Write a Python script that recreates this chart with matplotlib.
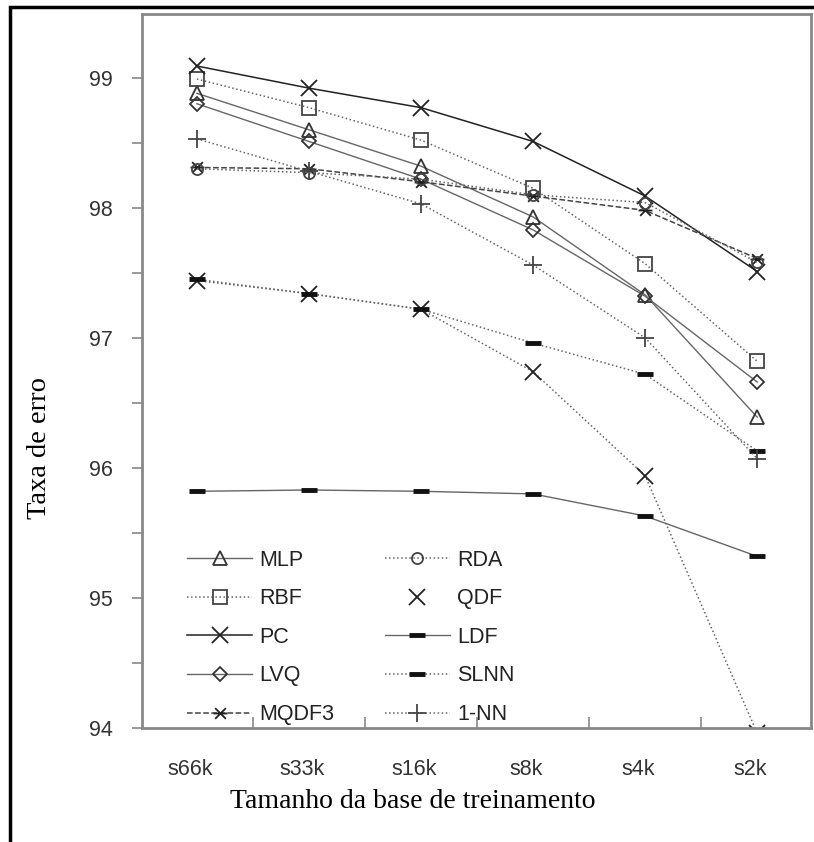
import numpy as np
import matplotlib.pyplot as plt
from matplotlib.path import Path
from matplotlib.patches import Rectangle
import matplotlib.transforms as mtransforms

# training set sizes and error rates
sizes = ['s66k', 's33k', 's16k', 's8k', 's4k', 's2k']
mlp = [98.88, 98.60, 98.32, 97.93, 97.33, 96.39]
rbf = [98.99, 98.77, 98.52, 98.15, 97.57, 96.82]
pc = [99.09, 98.92, 98.77, 98.51, 98.09, 97.51]
lvq = [98.80, 98.51, 98.22, 97.83, 97.32, 96.66]
mqdf3 = [98.31, 98.30, 98.20, 98.09, 97.98, 97.61]
rda = [98.30, 98.27, 98.22, 98.10, 98.04, 97.58]
qdf = [97.44, 97.34, 97.22, 96.74, 95.94, 93.96]
ldf = [95.82, 95.83, 95.82, 95.80, 95.63, 95.32]
slnn = [97.45, 97.34, 97.22, 96.96, 96.72, 96.13]
nn1 = [98.53, 98.28, 98.03, 97.56, 97.00, 96.07]

x = np.arange(len(sizes))

# asterisk-like marker: x with a horizontal bar
star = Path([(-1, -1), (1, 1), (-1, 1), (1, -1), (-1.3, 0), (1.3, 0)],
            [Path.MOVETO, Path.LINETO, Path.MOVETO, Path.LINETO, Path.MOVETO, Path.LINETO])

fig = plt.figure(figsize=(8.14, 8.42), dpi=100)
ax = fig.add_axes([142/814, 1-728/842, 669/814, 714/842])

g = '#666666'
kw = dict(markerfacecolor='none', markeredgewidth=1.3)
ax.plot(x, mlp, '-', color=g, lw=1, marker='^', ms=10, mec='#333333', label='MLP', **kw)
ax.plot(x, rbf, ':', color=g, lw=1.1, marker='s', ms=10, mec='#444444', label='RBF', **kw)
ax.plot(x, pc, '-', color='#222222', lw=1.1, marker='x', ms=11, mec='#222222', label='PC', **kw)
ax.plot(x, lvq, '-', color=g, lw=1, marker='D', ms=7, mec='#333333', label='LVQ', **kw)
ax.plot(x, mqdf3, '--', color='#444444', lw=1.1, marker=star, ms=10, mec='#222222', label='MQDF3', **kw)
ax.plot(x, rda, ':', color=g, lw=1.1, marker='o', ms=8, mec='#444444', label='RDA', **kw)
ax.plot(x, qdf, ':', color=g, lw=1.1, marker='x', ms=11, mec='#222222', label='QDF', **kw)
ax.plot(x, ldf, '-', color=g, lw=1, marker='_', ms=11, mew=3.5, mec='#111111', label='LDF')
ax.plot(x, slnn, ':', color=g, lw=1.1, marker='_', ms=11, mew=3.5, mec='#111111', label='SLNN')
ax.plot(x, nn1, ':', color=g, lw=1.1, marker='+', ms=13, mew=1.3, mec='#444444', label='1-NN')

ax.set_xlim(-0.49, 5.48)
ax.set_ylim(94, 99.49)

ax.set_yticks([94, 95, 96, 97, 98, 99])
ax.set_yticks(np.arange(94.5, 99.5, 1), minor=True)
ax.tick_params(axis='y', which='both', direction='out', length=7, width=1.2,
               color='#888888', pad=14, labelsize=15.5, labelcolor='#333333')
for t in ax.get_yticklabels():
    t.set_family('Liberation Sans')

ax.set_xticks(np.arange(0.5, 5, 1))
ax.set_xticklabels([])
ax.set_xticks(x, minor=True)
ax.set_xticklabels(sizes, minor=True, family='Liberation Sans', fontsize=15.5, color='#333333')
ax.tick_params(axis='x', which='major', direction='in', length=8, width=1.2, color='#888888')
ax.tick_params(axis='x', which='minor', length=0, pad=22)
offset = mtransforms.ScaledTranslation(-7/100, 0, fig.dpi_scale_trans)
for t in ax.get_xticklabels(minor=True):
    t.set_transform(t.get_transform() + offset)

for s in ax.spines.values():
    s.set_color('#888888')
    s.set_linewidth(2)

# legend lines: QDF is shown without its line
handles, labels = ax.get_legend_handles_labels()
leg = ax.legend(handles, labels, ncol=2, loc='upper left', frameon=False,
                bbox_to_anchor=(0.068, 0.25), borderpad=0, borderaxespad=0,
                handlelength=3.0, handletextpad=0.35, labelspacing=0.82,
                columnspacing=2.35, prop={'family': 'Liberation Sans', 'size': 15.5})
leg.get_lines()[6].set_linestyle('none')
for t in leg.get_texts():
    t.set_color('#222222')

fig.text(40/814, 1-448/842, 'Taxa de erro', rotation=90, ha='center', va='center',
         family='Liberation Serif', fontsize=20.5)
fig.text(413/814, 1-801/842, 'Tamanho da base de treinamento', ha='center', va='center',
         family='Liberation Serif', fontsize=20)

# black frame around the picture
fig.patches.append(Rectangle((10/814, -0.1), 1.2, 1.1 - 7/842, transform=fig.transFigure,
                             fill=False, edgecolor='black', linewidth=2.5))

fig.savefig('out.png', dpi=100)
